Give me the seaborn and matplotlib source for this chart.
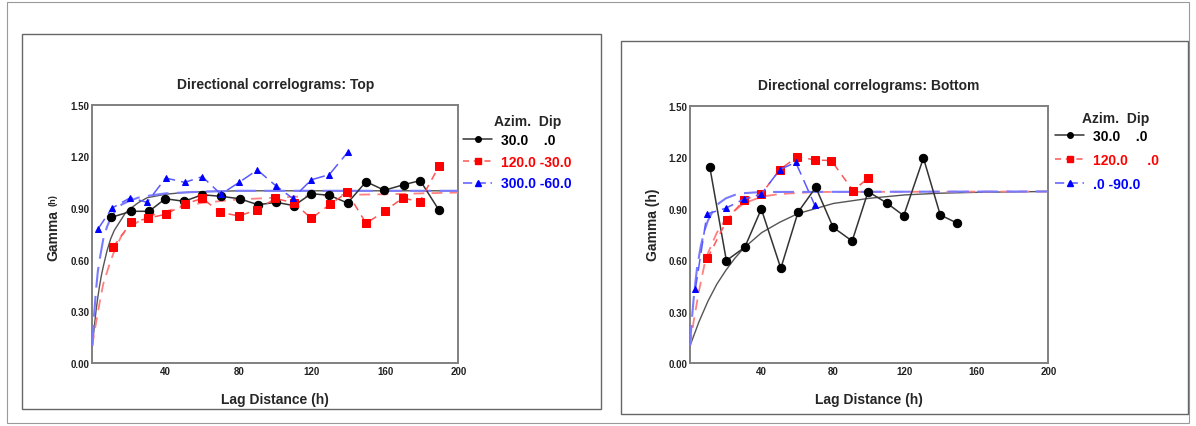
import matplotlib
matplotlib.use("Agg")
import matplotlib.pyplot as plt
from matplotlib.lines import Line2D
from matplotlib.patches import Rectangle
import seaborn as sns
import pandas as pd

# ---- Top panel: experimental correlograms ----
top_lag_30 = [10.4, 21.3, 31, 39.9, 50.1, 60.1, 70.2, 80.5, 90.5, 100.5, 110.2, 119.7,
              129.5, 139.5, 149.6, 159.6, 170.3, 179.2, 189.3]
top_gam_30 = [0.846, 0.881, 0.881, 0.954, 0.939, 0.977, 0.968, 0.954, 0.919, 0.933, 0.914,
              0.983, 0.974, 0.929, 1.053, 1.003, 1.036, 1.059, 0.890]
top_lag_120 = [11.3, 21.3, 30.4, 40.4, 50.5, 60.1, 69.9, 80, 90.2, 100, 110.2, 119.7,
               129.9, 139.3, 149.6, 160, 169.6, 178.9, 189.5]
top_gam_120 = [0.672, 0.817, 0.840, 0.865, 0.923, 0.956, 0.875, 0.854, 0.890, 0.956, 0.929,
               0.840, 0.921, 0.991, 0.811, 0.883, 0.958, 0.937, 1.144]
top_lag_300 = [3.1, 10.7, 20.8, 29.9, 40.1, 50.5, 60.1, 70.3, 80.2, 90.2, 100.2, 109.5,
               119.7, 129.5, 139.5]
top_gam_300 = [0.778, 0.899, 0.960, 0.933, 1.074, 1.049, 1.082, 0.980, 1.049, 1.121, 1.030,
               0.956, 1.064, 1.094, 1.223]

# fitted models, top
top_mod_lag_30 = [0, 1, 2, 3, 4, 5, 6, 8, 10, 12, 15, 18, 20, 25, 30, 40, 50, 60, 80, 100, 200]
top_mod_30 = [0.10, 0.20, 0.30, 0.38, 0.45, 0.51, 0.56, 0.65, 0.72, 0.77, 0.82, 0.87, 0.89,
              0.93, 0.96, 0.98, 0.99, 0.995, 1.0, 1.0, 1.0]
top_mod_lag_120 = [0, 1, 2, 3, 4, 6, 9, 12, 16, 20, 25, 30, 40, 50, 60, 80, 100, 130, 160, 200]
top_mod_120 = [0.10, 0.17, 0.23, 0.29, 0.35, 0.46, 0.56, 0.65, 0.74, 0.79, 0.82, 0.85, 0.88,
               0.91, 0.93, 0.95, 0.96, 0.975, 0.98, 0.99]
top_mod_lag_300 = [0, 1, 2, 3, 4, 6, 8, 10, 13, 16, 20, 25, 30, 40, 60, 80, 200]
top_mod_300 = [0.10, 0.28, 0.42, 0.53, 0.60, 0.72, 0.79, 0.84, 0.89, 0.92, 0.94, 0.96, 0.97,
               0.985, 0.995, 1.0, 1.0]

# ---- Bottom panel ----
bot_lag_30 = [11, 20.3, 30.6, 39.8, 50.7, 60.3, 70.2, 79.9, 90.5, 99.4, 109.8, 119.3,
              130.3, 139.7, 149]
bot_gam_30 = [1.145, 0.597, 0.675, 0.898, 0.552, 0.879, 1.024, 0.791, 0.711, 0.999, 0.933,
              0.859, 1.195, 0.863, 0.816]
bot_lag_120 = [9.7, 20.8, 30.2, 39.8, 50.1, 59.9, 69.6, 78.9, 91, 99.4]
bot_gam_120 = [0.610, 0.836, 0.952, 0.985, 1.127, 1.203, 1.184, 1.180, 1.005, 1.077]
bot_lag_0 = [3, 9.5, 19.9, 30.2, 39.8, 50.1, 59, 69.6]
bot_gam_0 = [0.431, 0.869, 0.902, 0.956, 0.985, 1.127, 1.170, 0.921]

bot_mod_lag_30 = [0, 5, 10, 15, 20, 25, 30, 40, 50, 60, 70, 80, 90, 100, 120, 140, 160, 200]
bot_mod_30 = [0.10, 0.24, 0.36, 0.46, 0.54, 0.61, 0.67, 0.76, 0.82, 0.87, 0.90, 0.93, 0.945,
              0.96, 0.98, 0.99, 0.995, 1.0]
bot_mod_lag_120 = [0, 1, 2, 3, 5, 8, 10, 15, 20, 25, 30, 40, 50, 70, 200]
bot_mod_120 = [0.10, 0.17, 0.24, 0.30, 0.42, 0.57, 0.64, 0.76, 0.84, 0.89, 0.93, 0.97, 0.985,
               0.997, 1.0]
bot_mod_lag_0 = [0, 1, 2, 3, 4, 6, 8, 10, 13, 16, 20, 25, 30, 40, 200]
bot_mod_0 = [0.10, 0.25, 0.37, 0.47, 0.56, 0.68, 0.77, 0.83, 0.89, 0.93, 0.96, 0.98, 0.99,
             0.997, 1.0]

y_ticks = [0.0, 0.3, 0.6, 0.9, 1.2, 1.5]
x_ticks = [40, 80, 120, 160, 200]
top_labels = ["30.0    .0", "120.0 -30.0", "300.0 -60.0"]
bot_labels = ["30.0    .0", "120.0     .0", ".0 -90.0"]

BLK, RED, BLU = "#000000", "#ff0000", "#0000ff"

sns.set_style("white")
plt.rcParams["font.family"] = ["Liberation Sans", "DejaVu Sans"]

fig = plt.figure(figsize=(11.96, 4.27), dpi=100)

# frames around whole picture and the two panels
fig.patches.append(Rectangle((7 / 1196, 3 / 427), 1182 / 1196, 421 / 427, transform=fig.transFigure,
                             fill=False, ec="#9a9a9a", lw=0.8))
fig.patches.append(Rectangle((22 / 1196, 17 / 427), 579 / 1196, 375 / 427, transform=fig.transFigure,
                             fill=False, ec="#666666", lw=1.0))
fig.patches.append(Rectangle((621 / 1196, 12 / 427), 567 / 1196, 373 / 427, transform=fig.transFigure,
                             fill=False, ec="#666666", lw=1.0))


def draw(ax, series, models, title):
    for (lag, gam, col, lcol, ls, mk, ms) in series:
        df = pd.DataFrame({"lag": lag, "gamma": gam})
        sns.lineplot(data=df, x="lag", y="gamma", ax=ax, sort=False, estimator=None,
                     color=lcol, lw=1.1, dashes=False, linestyle=ls, marker=mk,
                     markersize=ms, markerfacecolor=col, markeredgecolor=col, zorder=4)
    for (lag, gam, lcol, ls, lw) in models:
        df = pd.DataFrame({"lag": lag, "gamma": gam})
        sns.lineplot(data=df, x="lag", y="gamma", ax=ax, sort=False, estimator=None,
                     color=lcol, lw=lw, linestyle=ls, zorder=3)
    ax.set_xlim(0, 200)
    ax.set_ylim(0, 1.5)
    ax.set_xticks(x_ticks)
    ax.set_xticks([20, 60, 100, 140, 180], minor=True)
    ax.set_yticks(y_ticks)
    ax.set_yticks([0.15, 0.45, 0.75, 1.05, 1.35], minor=True)
    ax.set_yticklabels([f"{v:.2f}" for v in y_ticks])
    ax.tick_params(which="both", direction="in", length=3, width=0.8, color="#666666",
                   labelsize=7, labelcolor="#222222", pad=2)
    for lab in ax.get_xticklabels() + ax.get_yticklabels():
        lab.set_fontweight("bold")
    for s in ax.spines.values():
        s.set_color("#808080")
        s.set_linewidth(1.4)
    ax.set_xlabel("Lag Distance (h)", fontsize=10, fontweight="bold", labelpad=12)
    ax.set_ylabel("")
    ax.set_title(title, fontsize=10, fontweight="bold", pad=12)


def legend(ax, labels, x, y, hx, hy, spacing):
    handles = [Line2D([], [], color="#333333", lw=1.1, marker="o", ms=4, mfc=BLK, mec=BLK),
               Line2D([], [], color="#ff5555", lw=1.1, ls=(0, (4, 3)), marker="s", ms=4, mfc=RED, mec=RED),
               Line2D([], [], color="#5a5aff", lw=1.1, ls=(0, (6, 3)), marker="^", ms=4, mfc=BLU, mec=BLU)]
    ax.legend(handles, labels, loc="upper left", bbox_to_anchor=(x, y), frameon=False,
              handlelength=2.1, handletextpad=0.6, labelspacing=spacing, borderpad=0,
              prop={"weight": "bold", "size": 10}, labelcolor=[BLK, RED, BLU], borderaxespad=0)
    ax.text(hx, hy, "Azim.  Dip", transform=ax.transAxes, ha="left", va="center",
            fontsize=10, fontweight="bold")


ax1 = fig.add_axes([92.3 / 1196, 63 / 427, 366 / 1196, 258.3 / 427])
draw(ax1,
     [(top_lag_30, top_gam_30, BLK, "#333333", "-", "o", 6),
      (top_lag_120, top_gam_120, RED, "#ff5555", (0, (5, 4)), "s", 5.5),
      (top_lag_300, top_gam_300, BLU, "#5a5aff", (0, (8, 4)), "^", 5)],
     [(top_mod_lag_30, top_mod_30, "#555555", "-", 1.0),
      (top_mod_lag_120, top_mod_120, "#ff8080", (0, (6, 4)), 1.3),
      (top_mod_lag_300, top_mod_300, "#7a7aff", (0, (10, 4)), 1.5)],
     "Directional correlograms: Top")
ax1.text(-0.107, 0.498, "Gamma", transform=ax1.transAxes, rotation=90, ha="center",
         va="center", fontsize=10, fontweight="bold")
ax1.text(-0.107, 0.635, "(h)", transform=ax1.transAxes, rotation=90, ha="center",
         va="center", fontsize=6.5, fontweight="bold")
legend(ax1, top_labels, 1.013, 0.89, 1.0975, 0.937, 0.55)

ax2 = fig.add_axes([690 / 1196, 63 / 427, 358.3 / 1196, 257.3 / 427])
draw(ax2,
     [(bot_lag_30, bot_gam_30, BLK, "#333333", "-", "o", 6),
      (bot_lag_120, bot_gam_120, RED, "#ff5555", (0, (5, 4)), "s", 5.5),
      (bot_lag_0, bot_gam_0, BLU, "#5a5aff", (0, (8, 4)), "^", 5)],
     [(bot_mod_lag_30, bot_mod_30, "#555555", "-", 1.0),
      (bot_mod_lag_120, bot_mod_120, "#ff8080", (0, (6, 4)), 1.3),
      (bot_mod_lag_0, bot_mod_0, "#7a7aff", (0, (10, 4)), 1.5)],
     "Directional correlograms: Bottom")
ax2.set_ylabel("Gamma (h)", fontsize=10, fontweight="bold")
ax2.yaxis.set_label_coords(-0.084, 0.543)
legend(ax2, bot_labels, 1.019, 0.91, 1.094, 0.952, 0.73)

fig.savefig("out.png", dpi=100)
